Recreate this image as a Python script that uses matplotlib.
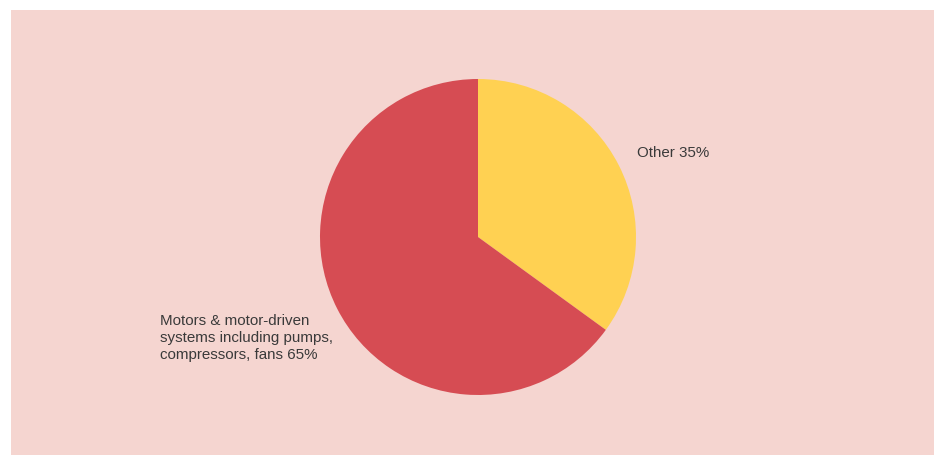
import matplotlib.pyplot as plt
from matplotlib.patches import Rectangle

labels = ['Other 35%', 'Motors & motor-driven\nsystems including pumps,\ncompressors, fans 65%']
shares = [35, 65]
colors = ['#FFD152', '#D64C53']

W, H = 938, 455
fig = plt.figure(figsize=(W / 100, H / 100), dpi=100)
fig.patch.set_facecolor('white')
ax = fig.add_axes([0, 0, 1, 1])

# pink panel
ax.add_patch(Rectangle((11, 10), 923, 450, facecolor='#F5D5D0', edgecolor='none', zorder=0))

# pie in pixel coords (y axis flipped, so counterclock=True draws clockwise on screen)
ax.pie(shares, colors=colors, startangle=-90, counterclock=True,
       center=(478, 237), radius=158, frame=True,
       wedgeprops=dict(linewidth=0))
ax.set_xlim(0, W)
ax.set_ylim(H, 0)
ax.set_aspect('equal')
ax.axis('off')

txt = dict(color='#3a3a3a', fontsize=10.9, family='Liberation Sans', linespacing=1.27)
ax.text(637, 153, labels[0], ha='left', va='center', **txt)
ax.text(160, 338, labels[1], ha='left', va='center', **txt)

fig.savefig('out.png', dpi=100)
